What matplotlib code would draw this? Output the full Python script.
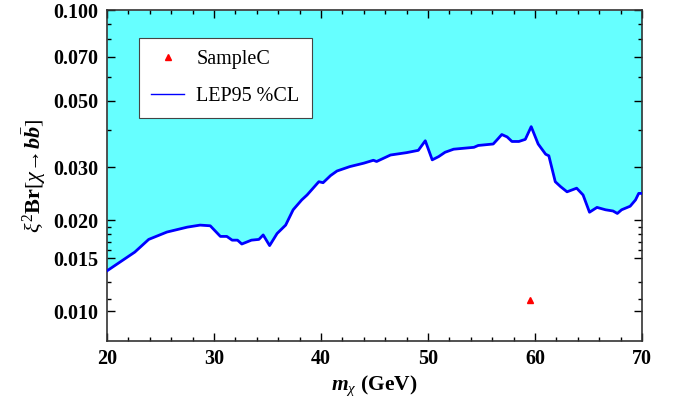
import matplotlib
matplotlib.use("Agg")
import matplotlib.pyplot as plt
from matplotlib.ticker import FixedLocator, NullFormatter, FixedFormatter

plt.rcParams['font.family'] = ['Liberation Serif', 'DejaVu Serif']
plt.rcParams['mathtext.fontset'] = 'custom'
plt.rcParams['mathtext.rm'] = 'Liberation Serif'
plt.rcParams['mathtext.it'] = 'Liberation Serif:italic'
plt.rcParams['mathtext.bf'] = 'Liberation Serif:bold'
plt.rcParams['mathtext.bfit'] = 'Liberation Serif:italic:bold'

# LEP 95% CL upper limit
mx = [20, 22.6, 23.9, 25.6, 27.5, 28.7, 29.65, 30.6, 31.2, 31.7, 32.2, 32.6,
      33.5, 34.2, 34.6, 35.2, 35.9, 36.7, 37.4, 38.2, 38.7, 39.8, 40.2, 40.9,
      41.5, 42.7, 44.0, 44.9, 45.2, 46.5, 48.0, 49.1, 49.75, 50.4, 51.0, 51.6,
      52.4, 54.3, 54.7, 56.1, 56.5, 56.9, 57.4, 57.85, 58.5, 59.1, 59.65, 60.3,
      61.0, 61.3, 61.9, 62.4, 63.0, 63.9, 64.5, 65.1, 65.8, 66.6, 67.3, 67.7,
      68.1, 68.9, 69.4, 69.7, 70]
lep_limit = [0.0136, 0.0157, 0.0173, 0.0183, 0.0190, 0.0193, 0.0192, 0.0177,
             0.0177, 0.0172, 0.0172, 0.0167, 0.0172, 0.0173, 0.0179, 0.0165,
             0.0181, 0.0193, 0.0217, 0.0234, 0.0243, 0.0269, 0.0267, 0.0282,
             0.0292, 0.0302, 0.0310, 0.0317, 0.0314, 0.0330, 0.0336, 0.0342,
             0.0368, 0.0318, 0.0326, 0.0337, 0.0345, 0.0350, 0.0355, 0.0359,
             0.0372, 0.0386, 0.0379, 0.0366, 0.0366, 0.0372, 0.0410, 0.0359,
             0.0332, 0.0328, 0.0269, 0.0259, 0.0249, 0.0256, 0.0243, 0.0213,
             0.0221, 0.0217, 0.0215, 0.0211, 0.0217, 0.0223, 0.0234, 0.0246,
             0.0246]

# sample point
sample_mx = [59.5]
sample_val = [0.0109]

y_major = [0.010, 0.015, 0.020, 0.030, 0.050, 0.070, 0.100]
y_labels = ['0.010', '0.015', '0.020', '0.030', '0.050', '0.070', '0.100']
y_minor = [0.011, 0.0125, 0.016, 0.017, 0.018, 0.019, 0.04, 0.06, 0.08, 0.09]

fig = plt.figure(figsize=(6.75, 4.05), dpi=100)
ax = fig.add_axes([0.1585, 0.158, 0.7925, 0.817])

ax.fill_between(mx, lep_limit, 0.1, color='#66ffff', linewidth=0)
ax.plot(mx, lep_limit, color='#0000ff', lw=2.0, label='LEP95 %CL', zorder=3)
ax.plot(sample_mx, sample_val, '^', color='red', ms=5, ls='none',
        label='SampleC', zorder=4)

ax.set_yscale('log')
ax.set_xlim(20, 70)
ax.set_ylim(0.00795, 0.1)

ax.xaxis.set_major_locator(FixedLocator([20, 30, 40, 50, 60, 70]))
ax.xaxis.set_minor_locator(FixedLocator([x for x in range(20, 71, 2)]))
ax.yaxis.set_major_locator(FixedLocator(y_major))
ax.yaxis.set_major_formatter(FixedFormatter(y_labels))
ax.yaxis.set_minor_locator(FixedLocator(y_minor))
ax.yaxis.set_minor_formatter(NullFormatter())

ax.tick_params(which='both', direction='in', top=True, right=True, width=1)
ax.tick_params(which='major', length=6, labelsize=14.5, pad=6)
ax.tick_params(which='minor', length=3)
for lab in ax.get_xticklabels() + ax.get_yticklabels():
    lab.set_fontweight('bold')
for sp in ax.spines.values():
    sp.set_linewidth(1.2)
    sp.set_color('#333333')

ax.set_xlabel(r'$\mathbfit{m}_{\chi}$ $\mathbf{(GeV)}$', fontsize=15.5, labelpad=3)
ax.set_ylabel(r'$\xi^2\mathbf{Br}[\chi\!\rightarrow\!\mathbfit{b}\bar{\mathbfit{b}}]$',
              fontsize=16, labelpad=4)

handles, labels = ax.get_legend_handles_labels()
leg = ax.legend(handles[::-1], labels[::-1], loc='upper left',
                bbox_to_anchor=(0.06, 0.915), borderaxespad=0, fontsize=14.5,
                frameon=True, fancybox=False, framealpha=1,
                edgecolor='#444444', borderpad=0.6, labelspacing=0.85,
                handlelength=1.65, handletextpad=0.6)
leg.get_frame().set_linewidth(0.8)
for ln in leg.get_lines():
    if ln.get_label() == 'LEP95 %CL':
        ln.set_linewidth(1.0)

fig.savefig('out.png', dpi=100)
